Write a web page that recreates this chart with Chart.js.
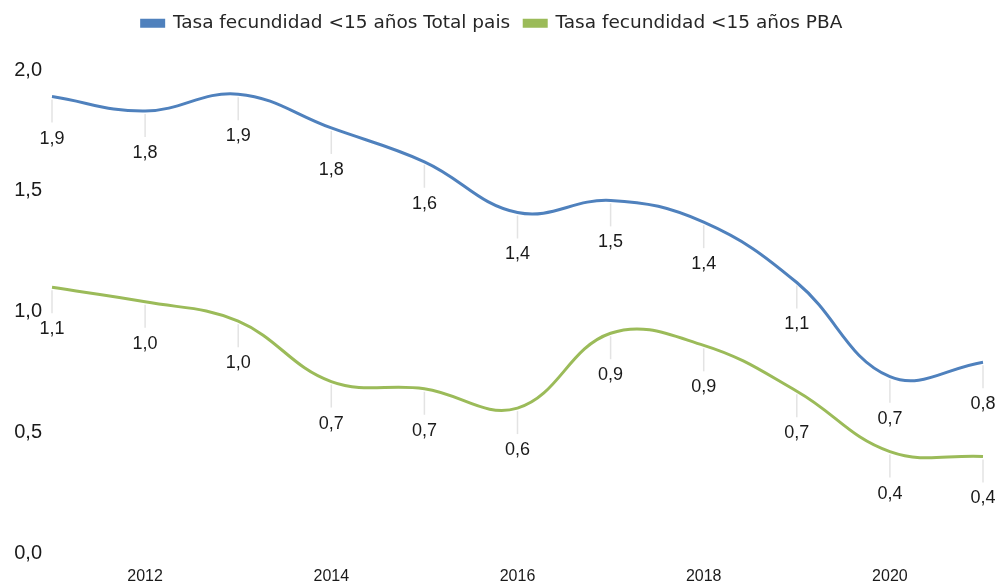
<!DOCTYPE html>
<html>
<head>
<meta charset="utf-8">
<script src="https://cdn.jsdelivr.net/npm/chart.js@4/dist/chart.umd.min.js"></script>
<style>
  html, body { margin: 0; padding: 0; background: #fff; }
  #wrap { width: 999px; height: 585px; }
</style>
</head>
<body>
<div id="wrap"><canvas id="myChart"></canvas></div>
<script>
// years on the x axis (only the even ones get a label)
let years = ["2011","2012","2013","2014","2015","2016","2017","2018","2019","2020","2021"];
let totalPais = [1.89, 1.83, 1.90, 1.76, 1.62, 1.41, 1.46, 1.37, 1.12, 0.73, 0.79];
let pba = [1.10, 1.04, 0.96, 0.71, 0.68, 0.60, 0.91, 0.86, 0.67, 0.42, 0.40];
let seriesNames = ["Tasa fecundidad <15 años Total pais", "Tasa fecundidad <15 años PBA"];

function comma(v, d){
    return v.toFixed(d).replace(".", ",");
}

// small grey leader line under each point + value label
const leaderLabels = {
    id: 'leaderLabels',
    afterDatasetsDraw(chart){
        const ctx = chart.ctx;
        ctx.save();
        chart.data.datasets.forEach(function(ds, i){
            const meta = chart.getDatasetMeta(i);
            meta.data.forEach(function(pt, j){
                ctx.strokeStyle = '#e3e3e3';
                ctx.lineWidth = 1.5;
                ctx.beginPath();
                ctx.moveTo(pt.x, pt.y + 3);
                ctx.lineTo(pt.x, pt.y + 26);
                ctx.stroke();
                ctx.fillStyle = '#1a1a1a';
                ctx.font = '18px "Liberation Sans", Arial, sans-serif';
                ctx.textAlign = 'center';
                ctx.textBaseline = 'middle';
                ctx.fillText(comma(ds.data[j], 1), pt.x, pt.y + 42);
            });
        });
        ctx.restore();
    }
};

// give the legend a fixed height so the plot starts lower
const legendSpace = {
    id: 'legendSpace',
    beforeInit(chart){
        const fit = chart.legend.fit;
        chart.legend.fit = function(){
            fit.bind(chart.legend)();
            this.height = 70;
        };
    }
};

const ctx = document.getElementById('myChart');

new Chart(ctx, {
  type: 'line',
  data: {
    labels: years,
    datasets: [{
      label: seriesNames[0],
      data: totalPais,
      borderColor: '#4f81bd', backgroundColor: '#4f81bd',
      borderWidth: 3, tension: 0.4, pointRadius: 0, fill: false
    }, {
      label: seriesNames[1],
      data: pba,
      borderColor: '#9bbb59', backgroundColor: '#9bbb59',
      borderWidth: 3, tension: 0.4, pointRadius: 0, fill: false
    }]
  },
  options: {
    responsive: true,
    maintainAspectRatio: false,
    animation: false,
    layout: { padding: { left: 0, right: 15, top: 0, bottom: 0 } },
    plugins: {
      tooltip: { enabled: false },
      legend: {
        position: 'top',
        labels: {
          boxWidth: 22, boxHeight: 6,
          color: '#262626',
          font: { family: '"DejaVu Sans", Verdana, sans-serif', size: 18.5 },
          padding: 14
        }
      }
    },
    scales: {
      x: {
        offset: false,
        grid: { display: false, drawTicks: false },
        border: { display: false },
        afterFit: function(scale){ scale.height = 32; },
        ticks: {
          autoSkip: false, maxRotation: 0,
          color: '#1a1a1a',
          font: { family: '"Liberation Sans", Arial, sans-serif', size: 16, lineHeight: 1 },
          padding: 16,
          callback: function(v, i){ return i % 2 == 1 ? years[i] : ''; }
        }
      },
      y: {
        min: 0, max: 2,
        grid: { display: false, drawTicks: false },
        border: { display: false },
        afterFit: function(scale){ scale.width = 52; },
        ticks: {
          stepSize: 0.5,
          color: '#1a1a1a',
          font: { family: '"Liberation Sans", Arial, sans-serif', size: 20 },
          padding: 10,
          callback: function(v){ return comma(v, 1); }
        }
      }
    }
  },
  plugins: [leaderLabels, legendSpace]
});
</script>
</body>
</html>
